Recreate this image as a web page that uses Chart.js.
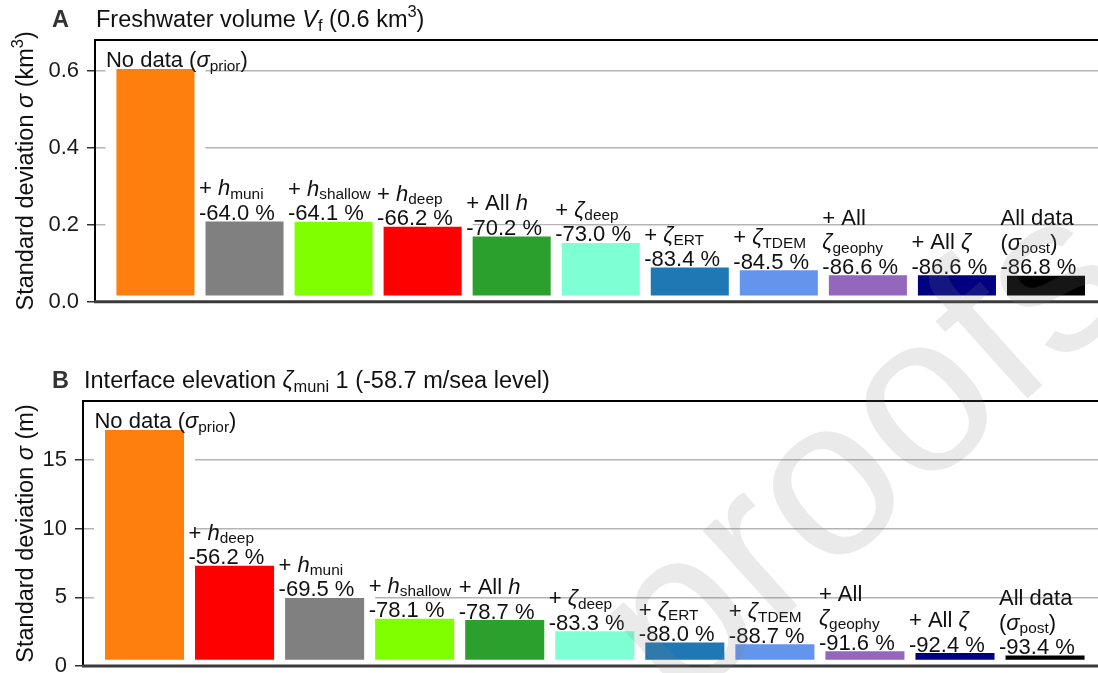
<!DOCTYPE html>
<html>
<head>
<meta charset="utf-8">
<script src="https://cdn.jsdelivr.net/npm/chart.js@4.4.1/dist/chart.umd.min.js"></script>
<style>
  html, body { margin: 0; padding: 0; background: #fff; }
  body { width: 1098px; height: 673px; overflow: hidden; position: relative; }
  .panel { position: absolute; left: 0; width: 1098px; }
  #panelA { top: 0; height: 340px; }
  #panelB { top: 340px; height: 360px; }
</style>
</head>
<body>
<div class="panel" id="panelA"><canvas id="chartA"></canvas></div>
<div class="panel" id="panelB"><canvas id="chartB"></canvas></div>
<script>
// ---------------------------------------------------------------
// Data: step-wise reduction of the standard deviation when the
// different observation types are added to the inversion.
// ---------------------------------------------------------------
const stepLabel = {
  prior:    'No data ($σ$_{prior})',
  hMuni:    '+ $h$_{muni}',
  hShallow: '+ $h$_{shallow}',
  hDeep:    '+ $h$_{deep}',
  allH:     '+ All $h$',
  zDeep:    '+ $ζ$_{deep}',
  zErt:     '+ $ζ$_{ERT}',
  zTdem:    '+ $ζ$_{TDEM}',
  zGeophy:  '+ All\n$ζ$_{geophy}',
  allZ:     '+ All $ζ$',
  post:     'All data\n($σ$_{post})'
};

// Panel A: freshwater volume (km^3)
const stepsA  = ['prior', 'hMuni', 'hShallow', 'hDeep', 'allH', 'zDeep', 'zErt', 'zTdem', 'zGeophy', 'allZ', 'post'];
const sigmaA  = [0.619, 0.223, 0.222, 0.209, 0.184, 0.167, 0.103, 0.096, 0.083, 0.083, 0.082];
const changeA = [null, -64.0, -64.1, -66.2, -70.2, -73.0, -83.4, -84.5, -86.6, -86.6, -86.8];
const ticksA  = [0, 0.2, 0.4, 0.6];
const tickLabelsA = ['0.0', '0.2', '0.4', '0.6'];

// Panel B: interface elevation (m)
const stepsB  = ['prior', 'hDeep', 'hMuni', 'hShallow', 'allH', 'zDeep', 'zErt', 'zTdem', 'zGeophy', 'allZ', 'post'];
const sigmaB  = [17.59, 7.70, 5.36, 3.85, 3.75, 2.94, 2.11, 1.99, 1.48, 1.34, 1.16];
const changeB = [null, -56.2, -69.5, -78.1, -78.7, -83.3, -88.0, -88.7, -91.6, -92.4, -93.4];
const ticksB  = [0, 5, 10, 15];
const tickLabelsB = ['0', '5', '10', '15'];

// Bar colour for every step (same in both panels)
const stepColour = {
  prior: '#ff7f0e', hMuni: '#808080', hShallow: '#7fff00', hDeep: '#ff0000',
  allH: '#2ca02c', zDeep: '#7fffd4', zErt: '#1f77b4', zTdem: '#6495ed',
  zGeophy: '#9467bd', allZ: '#000080', post: '#000000'
};

// ---------------------------------------------------------------
// Styling
// ---------------------------------------------------------------
const FAMILY = '"Liberation Sans", Arial, Helvetica, sans-serif';
const EDGE = 5.5;          // white bar outline
const LABEL_SIZE = 22;
const LABEL_LINE = 24.5;
const TITLE_SIZE = 23.5;
const TICK_SIZE = 22;
const STAMP = { text: 'proofs', x: 678, y: 713, angle: -42, size: 225, colour: 'rgba(128,128,128,0.17)' };

// Minimal rich text: $...$ italic, _{..} subscript, ^{..} superscript
function parseRich(str) {
  const segs = [];
  let italic = false, buf = '', i = 0;
  const flush = () => { if (buf) segs.push({ t: buf, it: italic, lv: 0 }); buf = ''; };
  while (i < str.length) {
    const c = str[i];
    if (c === '$') { flush(); italic = !italic; i++; }
    else if ((c === '_' || c === '^') && str[i + 1] === '{') {
      flush();
      const end = str.indexOf('}', i);
      segs.push({ t: str.slice(i + 2, end), it: false, lv: c === '_' ? -1 : 1 });
      i = end + 1;
    } else { buf += c; i++; }
  }
  flush();
  return segs;
}
function segFont(seg, size, bold) {
  const s = seg.lv ? size * 0.7 : size;
  return (seg.it ? 'italic ' : '') + (bold ? 'bold ' : '') + s + 'px ' + FAMILY;
}
function drawRich(ctx, str, x, y, size, opt) {
  opt = opt || {};
  const segs = parseRich(str);
  let w = 0;
  segs.forEach(s => { ctx.font = segFont(s, size, opt.bold); s.w = ctx.measureText(s.t).width; w += s.w; });
  let cx = opt.align === 'center' ? x - w / 2 : x;
  ctx.textAlign = 'left';
  ctx.textBaseline = 'alphabetic';
  ctx.fillStyle = opt.colour || '#111';
  segs.forEach(s => {
    ctx.font = segFont(s, size, opt.bold);
    const dy = s.lv === -1 ? size * 0.16 : (s.lv === 1 ? -size * 0.42 : 0);
    ctx.fillText(s.t, cx, y + dy);
    cx += s.w;
  });
}

// Decorations of one panel: bar outlines, labels, spines, titles, stamp
function panelDecor(p) {
  return {
    id: 'panelDecor',
    beforeDatasetsDraw(chart) {
      const ctx = chart.ctx;
      const meta = chart.getDatasetMeta(0);
      ctx.save();
      ctx.fillStyle = '#fff';
      meta.data.forEach(el => {
        ctx.fillRect(el.x - el.width / 2 - EDGE, el.y - EDGE, el.width + 2 * EDGE, el.base - el.y + EDGE);
      });
      ctx.restore();
    },
    afterDatasetsDraw(chart) {
      const ctx = chart.ctx;
      const meta = chart.getDatasetMeta(0);
      ctx.save();
      meta.data.forEach((el, i) => {
        const lines = stepLabel[p.steps[i]].split('\n');
        if (p.change[i] !== null) lines.push(p.change[i].toFixed(1) + ' %');
        const left = el.x - el.width / 2 - (i === 0 ? 5 : 1);
        const base = el.y + 4;
        lines.forEach((ln, k) => {
          drawRich(ctx, ln, left, base - (lines.length - 1 - k) * LABEL_LINE, LABEL_SIZE);
        });
      });
      ctx.restore();
    },
    afterDraw(chart) {
      const ctx = chart.ctx;
      const a = chart.chartArea;
      ctx.save();
      // spines
      ctx.lineCap = 'butt';
      ctx.strokeStyle = '#000';
      ctx.lineWidth = 2;
      ctx.beginPath();
      ctx.moveTo(a.left, a.top); ctx.lineTo(a.right, a.top);
      ctx.moveTo(a.left, a.top - 1); ctx.lineTo(a.left, a.bottom);
      ctx.stroke();
      ctx.strokeStyle = '#3a3a3a';
      ctx.lineWidth = 3;
      ctx.beginPath();
      ctx.moveTo(a.left - 1, a.bottom); ctx.lineTo(a.right, a.bottom);
      ctx.stroke();
      // panel letter and title
      drawRich(ctx, p.letter, 52, a.top - 13, TITLE_SIZE, { bold: true, colour: '#333' });
      drawRich(ctx, p.title, a.left + 1, a.top - 13, TITLE_SIZE);
      // y-axis title
      ctx.save();
      ctx.translate(33, (a.top + a.bottom) / 2);
      ctx.rotate(-Math.PI / 2);
      drawRich(ctx, p.yTitle, 0, 0, TITLE_SIZE, { align: 'center' });
      ctx.restore();
      // stamp across the page
      ctx.save();
      ctx.translate(STAMP.x, STAMP.y - p.pageTop);
      ctx.rotate(STAMP.angle * Math.PI / 180);
      ctx.font = STAMP.size + 'px ' + FAMILY;
      ctx.fillStyle = STAMP.colour;
      ctx.textAlign = 'left';
      ctx.textBaseline = 'alphabetic';
      ctx.fillText(STAMP.text, 0, 0);
      ctx.restore();
      ctx.restore();
    }
  };
}

function makePanel(canvasId, p) {
  return new Chart(document.getElementById(canvasId), {
    type: 'bar',
    data: {
      datasets: [{
        data: p.sigma.map((v, i) => ({ x: i, y: v })),
        backgroundColor: p.steps.map(s => stepColour[s]),
        borderColor: '#ffffff',
        borderWidth: EDGE,
        borderSkipped: false,
        inflateAmount: 0,
        barPercentage: 1.0,
        categoryPercentage: 1.0
      }]
    },
    options: {
      responsive: true,
      maintainAspectRatio: false,
      devicePixelRatio: 1,
      animation: false,
      events: [],
      layout: { padding: { top: p.padTop, bottom: p.padBottom, left: 0, right: 0 } },
      plugins: { legend: { display: false }, tooltip: { enabled: false }, title: { display: false } },
      scales: {
        x: {
          type: 'linear',
          display: false,
          offset: false,
          min: p.xMin,
          max: p.xMax,
          ticks: { stepSize: 1, includeBounds: false }
        },
        y: {
          type: 'linear',
          min: 0,
          max: p.yMax,
          afterFit(scale) { scale.width = p.axisLeft; },
          afterBuildTicks(scale) { scale.ticks = p.ticks.map(v => ({ value: v })); },
          ticks: {
            callback: (v, i) => p.tickLabels[i],
            font: { family: FAMILY, size: TICK_SIZE },
            color: '#1a1a1a',
            padding: 8
          },
          grid: {
            color: '#b4b4b4',
            lineWidth: 1.5,
            drawTicks: true,
            tickLength: 8,
            tickColor: '#333',
            tickWidth: 1.5
          },
          border: { display: false }
        }
      }
    },
    plugins: [panelDecor(p)]
  });
}

makePanel('chartA', {
  steps: stepsA, sigma: sigmaA, change: changeA, ticks: ticksA, tickLabels: tickLabelsA,
  yMax: 0.68, xMin: -0.679, xMax: 10.584,
  padTop: 40, padBottom: 38.3, axisLeft: 95, pageTop: 0,
  letter: 'A', title: 'Freshwater volume $V$_{f} (0.6 km^{3})',
  yTitle: 'Standard deviation $σ$ (km^{3})'
});

makePanel('chartB', {
  steps: stepsB, sigma: sigmaB, change: changeB, ticks: ticksB, tickLabels: tickLabelsB,
  yMax: 19.3, xMin: -0.683, xMax: 10.588,
  padTop: 61, padBottom: 34, axisLeft: 83, pageTop: 340,
  letter: 'B', title: 'Interface elevation $ζ$_{muni} 1 (-58.7 m/sea level)',
  yTitle: 'Standard deviation $σ$ (m)'
});
</script>
</body>
</html>
